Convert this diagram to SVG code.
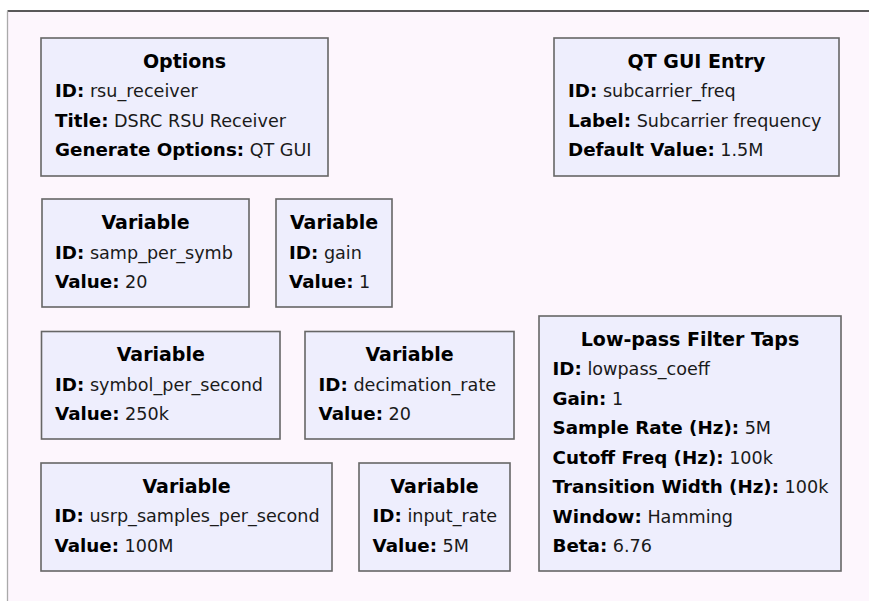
<svg xmlns="http://www.w3.org/2000/svg" width="869" height="601" viewBox="0 0 869 601">
  <style>
    .canvas { fill: #fdf6fd; }
    .frame-top { stroke: #222222; stroke-width: 1.5; }
    .frame-left { stroke: #aaaaaa; stroke-width: 1.3; }
    .block rect { fill: #eeeefd; stroke: #666666; stroke-width: 1.6; }
    text { font-family: "DejaVu Sans", "Liberation Sans", sans-serif; font-size: 17.6px; fill: #1a1a1a; }
    .title { font-weight: bold; font-size: 19px; text-anchor: middle; fill: #000; }
    .key { font-weight: bold; font-size: 18.3px; fill: #000; }
  </style>

  <!-- canvas -->
  <rect class="canvas" x="8" y="11" width="861" height="590"/>
  <line class="frame-top" x1="7.5" y1="11" x2="869" y2="11"/>
  <line class="frame-left" x1="7.5" y1="11" x2="7.5" y2="601"/>

  <!-- blocks -->
  <g id="options" class="block">
    <rect x="41" y="38" width="287" height="138"/>
    <text class="title" x="184.5" y="67.5">Options</text>
    <text x="55" y="97"><tspan class="key">ID:</tspan> rsu_receiver</text>
    <text x="55" y="126.5"><tspan class="key">Title:</tspan> DSRC RSU Receiver</text>
    <text x="55" y="156"><tspan class="key">Generate Options:</tspan> QT GUI</text>
  </g>

  <g id="qt_gui_entry" class="block">
    <rect x="554" y="38" width="285" height="138"/>
    <text class="title" x="696.5" y="67.5">QT GUI Entry</text>
    <text x="568" y="97"><tspan class="key">ID:</tspan> subcarrier_freq</text>
    <text x="568" y="126.5"><tspan class="key">Label:</tspan> Subcarrier frequency</text>
    <text x="568" y="156"><tspan class="key">Default Value:</tspan> 1.5M</text>
  </g>

  <g id="var_samp_per_symb" class="block">
    <rect x="42" y="199" width="207" height="108"/>
    <text class="title" x="145.5" y="228.5">Variable</text>
    <text x="55" y="258.5"><tspan class="key">ID:</tspan> samp_per_symb</text>
    <text x="55" y="288"><tspan class="key">Value:</tspan> 20</text>
  </g>

  <g id="var_gain" class="block">
    <rect x="276" y="199" width="116" height="108"/>
    <text class="title" x="334" y="228.5">Variable</text>
    <text x="289" y="258.5"><tspan class="key">ID:</tspan> gain</text>
    <text x="289" y="288"><tspan class="key">Value:</tspan> 1</text>
  </g>

  <g id="var_symbol_per_second" class="block">
    <rect x="41.5" y="331.5" width="238.5" height="107.5"/>
    <text class="title" x="160.75" y="361">Variable</text>
    <text x="55" y="390.5"><tspan class="key">ID:</tspan> symbol_per_second</text>
    <text x="55" y="420"><tspan class="key">Value:</tspan> 250k</text>
  </g>

  <g id="var_decimation_rate" class="block">
    <rect x="305" y="331.5" width="209" height="107.5"/>
    <text class="title" x="409.5" y="361">Variable</text>
    <text x="318.5" y="390.5"><tspan class="key">ID:</tspan> decimation_rate</text>
    <text x="318.5" y="420"><tspan class="key">Value:</tspan> 20</text>
  </g>

  <g id="var_usrp_samples_per_second" class="block">
    <rect x="41" y="463" width="291" height="108"/>
    <text class="title" x="186.5" y="492.5">Variable</text>
    <text x="54.5" y="522"><tspan class="key">ID:</tspan> usrp_samples_per_second</text>
    <text x="54.5" y="551.5"><tspan class="key">Value:</tspan> 100M</text>
  </g>

  <g id="var_input_rate" class="block">
    <rect x="359" y="463" width="151" height="108"/>
    <text class="title" x="434.5" y="492.5">Variable</text>
    <text x="372.5" y="522"><tspan class="key">ID:</tspan> input_rate</text>
    <text x="372.5" y="551.5"><tspan class="key">Value:</tspan> 5M</text>
  </g>

  <g id="lowpass_filter_taps" class="block">
    <rect x="539" y="316" width="302" height="255"/>
    <text class="title" x="690" y="345.5">Low-pass Filter Taps</text>
    <text x="552.5" y="375"><tspan class="key">ID:</tspan> lowpass_coeff</text>
    <text x="552.5" y="404.5"><tspan class="key">Gain:</tspan> 1</text>
    <text x="552.5" y="434"><tspan class="key">Sample Rate (Hz):</tspan> 5M</text>
    <text x="552.5" y="463.5"><tspan class="key">Cutoff Freq (Hz):</tspan> 100k</text>
    <text x="552.5" y="493"><tspan class="key">Transition Width (Hz):</tspan> 100k</text>
    <text x="552.5" y="522.5"><tspan class="key">Window:</tspan> Hamming</text>
    <text x="552.5" y="552"><tspan class="key">Beta:</tspan> 6.76</text>
  </g>

  <!-- no connections between these blocks -->
  <g id="connectors"></g>
</svg>
